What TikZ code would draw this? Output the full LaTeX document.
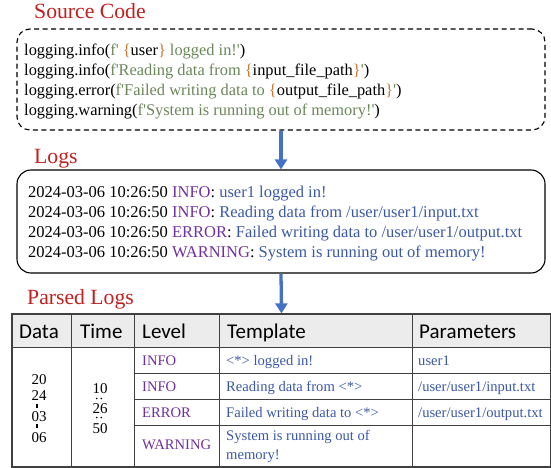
\documentclass[tikz,border=0pt]{standalone}
\usepackage{fontspec}
\setmainfont{Liberation Serif}
\newfontfamily\serifplain{Liberation Serif}[Ligatures=TeXOff]
\newfontfamily\headfont{Carlito}
\usetikzlibrary{arrows.meta}

\definecolor{titlered}{RGB}{192,32,30}
\definecolor{strgreen}{RGB}{106,135,89}
\definecolor{braceorange}{RGB}{204,120,50}
\definecolor{lvlpurple}{RGB}{112,48,160}
\definecolor{msgblue}{RGB}{58,88,166}
\definecolor{arrowblue}{RGB}{68,114,196}
\definecolor{headgray}{RGB}{236,236,236}
\definecolor{gridgray}{RGB}{64,64,64}

\newcommand\codestr[1]{\textcolor{strgreen}{#1}}
\newcommand\codebrace[1]{\textcolor{braceorange}{#1}}
\newcommand\lvl[1]{\textcolor{lvlpurple}{#1}}
\newcommand\msg[1]{\textcolor{msgblue}{#1}}

\tikzset{
  title/.style={anchor=base west, inner sep=0pt, text=titlered,
    font=\rmfamily\fontsize{21.7}{26}\selectfont},
  codeline/.style={anchor=base west, inner sep=0pt,
    font=\serifplain\fontsize{16.4}{20}\selectfont},
  logline/.style={anchor=base west, inner sep=0pt,
    font=\rmfamily\fontsize{16.5}{20}\selectfont},
  codebox/.style={draw, dash pattern=on 5pt off 3.5pt, rounded corners=13pt,
    line width=1.1pt, minimum width=528pt, minimum height=101pt, inner sep=0pt},
  logbox/.style={draw, rounded corners=14pt, line width=1.1pt,
    minimum width=528pt, minimum height=103pt, inner sep=0pt},
  tableframe/.style={draw=gridgray, line width=1.2pt, minimum width=539pt,
    minimum height=153pt, inner sep=0pt},
  flow/.style={draw=arrowblue, line width=3.3pt,
    -{Triangle[width=12pt,length=10pt]}},
  grid line/.style={draw=gridgray, line width=1pt},
  head/.style={anchor=base west, inner sep=0pt,
    font=\headfont\fontsize{21}{25}\selectfont},
  cell/.style={anchor=base west, inner sep=0pt,
    font=\rmfamily\fontsize{14.6}{17}\selectfont},
  stack/.style={anchor=base, inner sep=0pt,
    font=\rmfamily\fontsize{15}{17}\selectfont},
  tick/.style={line width=1.3pt},
}

\begin{document}
\begin{tikzpicture}[x=1pt,y=-1pt]
\useasboundingbox (0,0) rectangle (551,468);

% ---- source code ----
\node[title] (srcT) at (34,19) {Source Code};
\node[codebox] (code) at (281,79.5) {};
\node[codeline] (c1) at (24,56) {logging.info(\codestr{f'} \codebrace{\{}user\codebrace{\}} \codestr{logged in!'})};
\node[codeline] (c2) at (24,76) {logging.info(\codestr{f'Reading data from }\codebrace{\{}input\_file\_path\codebrace{\}}\codestr{'})};
\node[codeline] (c3) at (24,96) {logging.error(\codestr{f'Failed writing data to }\codebrace{\{}output\_file\_path\codebrace{\}}\codestr{'})};
\node[codeline] (c4) at (24,115.5) {logging.warning(\codestr{f'System is running out of memory!'})};

% ---- logs ----
\node[title] (logT) at (34,163) {Logs};
\node[logbox] (logs) at (281,221.5) {};
\node[logline] (l1) at (28,197) {2024-03-06 10:26:50 \lvl{INFO}: \msg{user1 logged in!}};
\node[logline] (l2) at (28,217) {2024-03-06 10:26:50 \lvl{INFO}: \msg{Reading data from /user/user1/input.txt}};
\node[logline] (l3) at (28,237) {2024-03-06 10:26:50 \lvl{ERROR}: \msg{Failed writing data to /user/user1/output.txt}};
\node[logline] (l4) at (28,257) {2024-03-06 10:26:50 \lvl{WARNING}: \msg{System is running out of memory!}};

% ---- parsed logs table ----
\node[title] (parT) at (27,304) {Parsed Logs};
\fill[headgray] (12,314) rectangle (551,347);
\node[tableframe] (table) at (281.5,390.5) {};
\draw[grid line] (12,347) -- (551,347);
\foreach \cx in {71,134,219,412} \draw[grid line] (\cx,314) -- (\cx,467);
\foreach \ry in {373,399,425} \draw[grid line] (134,\ry) -- (551,\ry);

\node[head] (hData) at (19,338) {Data};
\node[head] (hTime) at (80,338) {Time};
\node[head] (hLevel) at (142,338) {Level};
\node[head] (hTemp) at (227,338) {Template};
\node[head] (hPar) at (419,338) {Parameters};

% date, set vertically
\node[stack] (d1) at (39,384) {20};
\node[stack] (d2) at (39,400) {24};
\draw[tick] (37,403.5) -- (37,407.5);
\node[stack] (d3) at (39,421) {03};
\draw[tick] (37,424) -- (37,428);
\node[stack] (d4) at (39,442) {06};

% time, set vertically
\node[stack] (t1) at (100,393) {10};
\fill (96.8,398.5) circle (0.9) (101.2,398.5) circle (0.9);
\node[stack] (t2) at (100,413) {26};
\fill (96.8,417.5) circle (0.9) (101.2,417.5) circle (0.9);
\node[stack] (t3) at (100,433) {50};

\node[cell, text=lvlpurple] (v1) at (142,365) {INFO};
\node[cell, text=lvlpurple] (v2) at (142,391) {INFO};
\node[cell, text=lvlpurple] (v3) at (142,417) {ERROR};
\node[cell, text=lvlpurple] (v4) at (142,449) {WARNING};

\node[cell, text=msgblue] (p1) at (226,365) {<*> logged in!};
\node[cell, text=msgblue] (p2) at (226,391) {Reading data from <*>};
\node[cell, text=msgblue] (p3) at (226,417) {Failed writing data to <*>};
\node[cell, text=msgblue] (p4a) at (226,440) {System is running out of};
\node[cell, text=msgblue] (p4b) at (226,459) {memory!};

\node[cell, text=msgblue] (a1) at (418,365) {user1};
\node[cell, text=msgblue] (a2) at (418,391) {/user/user1/input.txt};
\node[cell, text=msgblue] (a3) at (418,417) {/user/user1/output.txt};

% ---- flow arrows ----
\draw[flow] (code.south) -- (logs.north);
\draw[flow] (logs.south) -- (table.north);
\end{tikzpicture}
\end{document}
